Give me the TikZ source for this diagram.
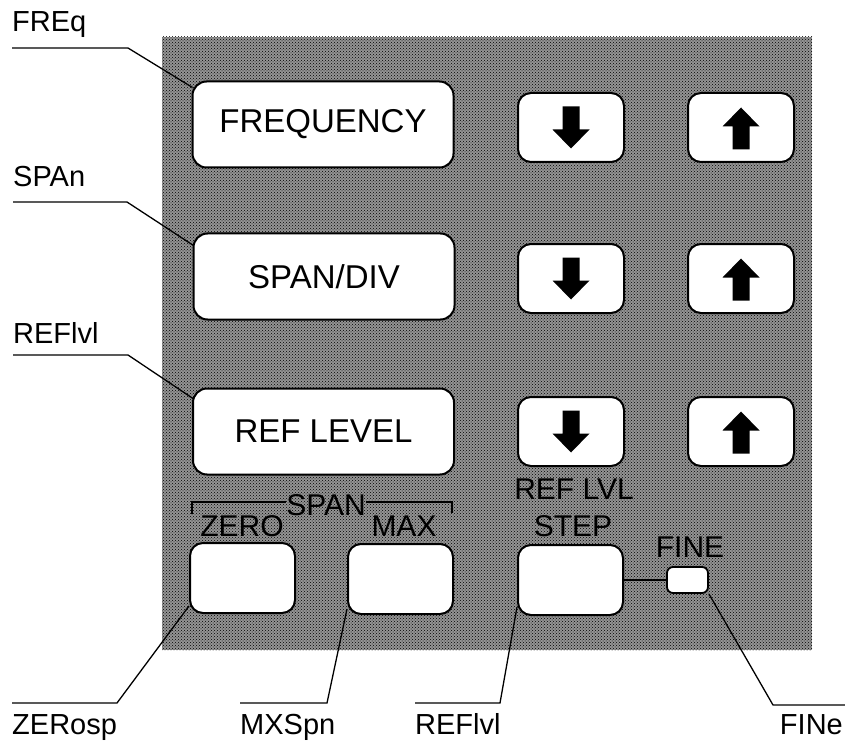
\documentclass[tikz,border=0pt]{standalone}
\usepackage{fontspec}
\setmainfont{Liberation Sans}
\usepackage{tikz}
\usetikzlibrary{patterns}
\usetikzlibrary{calc}

\tikzset{
  dnarrow/.pic={\fill (-8.5,-21) -- (8.5,-21) -- (8.5,2) -- (18.5,2) -- (0,21) -- (-18.5,2) -- (-8.5,2) -- cycle;},
  uparrow/.pic={\fill (-8.5,22) -- (8.5,22) -- (8.5,-1) -- (18.5,-1) -- (0,-20) -- (-18.5,-1) -- (-8.5,-1) -- cycle;}
}

\begin{document}
\begin{tikzpicture}[x=1pt, y=-1pt,
    mainbtn/.style={draw, line width=2pt, fill=white, rounded corners=14pt, minimum width=261pt, minimum height=86pt, font=\fontsize{33}{33}\selectfont},
    arrowbtn/.style={draw, line width=2pt, fill=white, rounded corners=13pt, minimum width=106pt, minimum height=69pt},
    smallbtn/.style={draw, line width=2pt, fill=white, rounded corners=13pt, minimum width=105pt, minimum height=70pt},
    panellbl/.style={inner sep=0pt, font=\fontsize{30}{30}\selectfont},
    sidelbl/.style={inner sep=0pt, font=\fontsize{29}{29}\selectfont},
    leader/.style={line width=1.3pt}]

        \useasboundingbox (0,0) rectangle (845,743);

        % panel
        \fill[black!42] (162,37) rectangle (812,650);
        \fill[pattern=crosshatch dots, pattern color=black] (162,37) rectangle (812,650);

        \node[mainbtn] (freq) at (323,124.5) {FREQUENCY};
        \node[mainbtn] (span) at (324,276.5) {SPAN/DIV};
        \node[mainbtn] (ref) at (323.5,431.5) {REF LEVEL};

        \foreach \nm/\yy in {freq/127.5, span/278.5, ref/431.5} {
            \node[arrowbtn] (\nm dn) at (571,\yy) {};
            \node[arrowbtn] (\nm up) at (741,\yy) {};
            \pic at (\nm dn) {dnarrow};
            \pic at (\nm up) {uparrow};
        }

        \node[smallbtn] (zero) at (242.5,578) {};
        \node[smallbtn] (max) at (400.5,579) {};
        \node[smallbtn] (step) at (570.5,580) {};
        \node[draw, line width=1.8pt, fill=white, rounded corners=6pt, minimum width=41pt, minimum height=26pt] (fine) at (687.5,580) {};
        \draw[leader] (step.east) -- (fine.west);

        % labels on the panel
        \node[panellbl] (spanlbl) at (326,505) {SPAN};
        \node[panellbl] (zerolbl) at (242,526) {ZERO};
        \node[panellbl] (maxlbl) at (404,526) {MAX};
        \node[panellbl] (reflvllbl) at (574,489) {REF LVL};
        \node[panellbl] (steplbl) at (573,526) {STEP};
        \node[panellbl] (finelbl) at (690,547) {FINE};
        \draw[leader] (192,514) -- (192,502) -- (spanlbl.west |- 0,502);
        \draw[leader] (spanlbl.east |- 0,502) -- (452,502) -- (452,513);

        % side labels
        \node[sidelbl, anchor=base west] (freqname) at (12,32) {FREq};
        \node[sidelbl, anchor=base west] (spanname) at (13,187) {SPAn};
        \node[sidelbl, anchor=base west] (refname) at (13,343) {REFlvl};
        \node[sidelbl, anchor=base west] (zeroname) at (12,734) {ZERosp};
        \node[sidelbl, anchor=base west] (maxname) at (240,734) {MXSpn};
        \node[sidelbl, anchor=base west] (stepname) at (415,734) {REFlvl};
        \node[sidelbl, anchor=base east] (finename) at (843,734) {FINe};

        \draw[leader] (freqname.west |- 0,48) -- (128,48) -- ([shift={(1pt,-7pt)}]freq.north west);
        \draw[leader] (spanname.west |- 0,202) -- (127,202) -- ([shift={(1pt,-13pt)}]span.north west);
        \draw[leader] (refname.west |- 0,355) -- (128,355) -- ([shift={(1pt,-11pt)}]ref.north west);
        \draw[leader] (zeroname.west |- 0,703) -- (117,703) -- ([yshift=8pt]zero.south west);
        \draw[leader] (maxname.west |- 0,703) -- (327,703) -- ([yshift=6pt]max.south west);
        \draw[leader] (stepname.west |- 0,703) -- (500,703) -- ([yshift=9pt]step.south west);
        \draw[leader] (845,705) -- (773,705) -- (fine.south east);

    \end{tikzpicture}
\end{document}
